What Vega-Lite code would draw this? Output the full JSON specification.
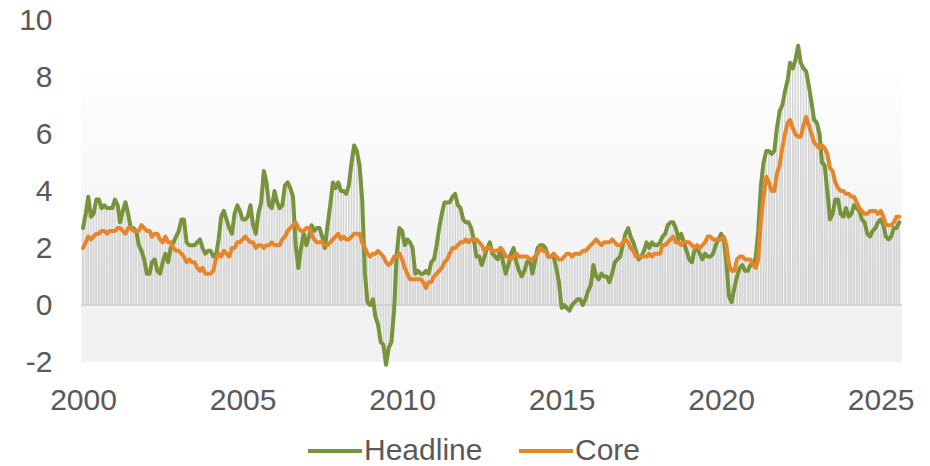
{
  "$schema": "https://vega.github.io/schema/vega-lite/v6.json",
  "width": 821,
  "height": 342,
  "autosize": {"type": "none"},
  "padding": {"left": 81, "top": 20, "right": 28, "bottom": 104},
  "config": {
    "view": {"stroke": null},
    "font": "Liberation Sans",
    "legend": {"orient": "none", "legendX": 225, "legendY": 402, "direction": "horizontal", "labelFontSize": 30, "labelColor": "#595959", "symbolType": "stroke", "symbolSize": 2916, "symbolStrokeWidth": 4, "labelOffset": 0, "columnPadding": 28, "title": null}
  },
  "datasets": {
    "cpi": [
{"d":"2000-01-01","Headline":2.7,"Core":2.0},{"d":"2000-02-01","Headline":3.2,"Core":2.2},{"d":"2000-03-01","Headline":3.8,"Core":2.4},{"d":"2000-04-01","Headline":3.1,"Core":2.3},{"d":"2000-05-01","Headline":3.2,"Core":2.4},{"d":"2000-06-01","Headline":3.7,"Core":2.5},{"d":"2000-07-01","Headline":3.7,"Core":2.5},{"d":"2000-08-01","Headline":3.4,"Core":2.6},{"d":"2000-09-01","Headline":3.5,"Core":2.6},{"d":"2000-10-01","Headline":3.4,"Core":2.5},{"d":"2000-11-01","Headline":3.4,"Core":2.6},{"d":"2000-12-01","Headline":3.4,"Core":2.6},
{"d":"2001-01-01","Headline":3.7,"Core":2.6},{"d":"2001-02-01","Headline":3.5,"Core":2.7},{"d":"2001-03-01","Headline":2.9,"Core":2.7},{"d":"2001-04-01","Headline":3.3,"Core":2.6},{"d":"2001-05-01","Headline":3.6,"Core":2.5},{"d":"2001-06-01","Headline":3.2,"Core":2.7},{"d":"2001-07-01","Headline":2.7,"Core":2.7},{"d":"2001-08-01","Headline":2.7,"Core":2.6},{"d":"2001-09-01","Headline":2.6,"Core":2.6},{"d":"2001-10-01","Headline":2.1,"Core":2.6},{"d":"2001-11-01","Headline":1.9,"Core":2.8},{"d":"2001-12-01","Headline":1.6,"Core":2.7},
{"d":"2002-01-01","Headline":1.1,"Core":2.6},{"d":"2002-02-01","Headline":1.1,"Core":2.6},{"d":"2002-03-01","Headline":1.5,"Core":2.4},{"d":"2002-04-01","Headline":1.6,"Core":2.5},{"d":"2002-05-01","Headline":1.2,"Core":2.5},{"d":"2002-06-01","Headline":1.1,"Core":2.3},{"d":"2002-07-01","Headline":1.5,"Core":2.2},{"d":"2002-08-01","Headline":1.8,"Core":2.4},{"d":"2002-09-01","Headline":1.5,"Core":2.2},{"d":"2002-10-01","Headline":2.0,"Core":2.2},{"d":"2002-11-01","Headline":2.2,"Core":2.0},{"d":"2002-12-01","Headline":2.4,"Core":1.9},
{"d":"2003-01-01","Headline":2.6,"Core":1.9},{"d":"2003-02-01","Headline":3.0,"Core":1.8},{"d":"2003-03-01","Headline":3.0,"Core":1.7},{"d":"2003-04-01","Headline":2.2,"Core":1.5},{"d":"2003-05-01","Headline":2.1,"Core":1.6},{"d":"2003-06-01","Headline":2.1,"Core":1.5},{"d":"2003-07-01","Headline":2.1,"Core":1.5},{"d":"2003-08-01","Headline":2.2,"Core":1.3},{"d":"2003-09-01","Headline":2.3,"Core":1.2},{"d":"2003-10-01","Headline":2.0,"Core":1.3},{"d":"2003-11-01","Headline":1.8,"Core":1.1},{"d":"2003-12-01","Headline":1.9,"Core":1.1},
{"d":"2004-01-01","Headline":1.9,"Core":1.1},{"d":"2004-02-01","Headline":1.7,"Core":1.2},{"d":"2004-03-01","Headline":1.7,"Core":1.6},{"d":"2004-04-01","Headline":2.3,"Core":1.8},{"d":"2004-05-01","Headline":3.1,"Core":1.7},{"d":"2004-06-01","Headline":3.3,"Core":1.9},{"d":"2004-07-01","Headline":3.0,"Core":1.8},{"d":"2004-08-01","Headline":2.7,"Core":1.7},{"d":"2004-09-01","Headline":2.5,"Core":2.0},{"d":"2004-10-01","Headline":3.2,"Core":2.0},{"d":"2004-11-01","Headline":3.5,"Core":2.2},{"d":"2004-12-01","Headline":3.3,"Core":2.2},
{"d":"2005-01-01","Headline":3.0,"Core":2.3},{"d":"2005-02-01","Headline":3.0,"Core":2.4},{"d":"2005-03-01","Headline":3.1,"Core":2.3},{"d":"2005-04-01","Headline":3.5,"Core":2.2},{"d":"2005-05-01","Headline":2.8,"Core":2.2},{"d":"2005-06-01","Headline":2.5,"Core":2.0},{"d":"2005-07-01","Headline":3.2,"Core":2.1},{"d":"2005-08-01","Headline":3.6,"Core":2.1},{"d":"2005-09-01","Headline":4.7,"Core":2.0},{"d":"2005-10-01","Headline":4.3,"Core":2.1},{"d":"2005-11-01","Headline":3.5,"Core":2.1},{"d":"2005-12-01","Headline":3.4,"Core":2.2},
{"d":"2006-01-01","Headline":4.0,"Core":2.1},{"d":"2006-02-01","Headline":3.6,"Core":2.1},{"d":"2006-03-01","Headline":3.4,"Core":2.1},{"d":"2006-04-01","Headline":3.5,"Core":2.3},{"d":"2006-05-01","Headline":4.2,"Core":2.4},{"d":"2006-06-01","Headline":4.3,"Core":2.6},{"d":"2006-07-01","Headline":4.1,"Core":2.7},{"d":"2006-08-01","Headline":3.8,"Core":2.8},{"d":"2006-09-01","Headline":2.1,"Core":2.9},{"d":"2006-10-01","Headline":1.3,"Core":2.7},{"d":"2006-11-01","Headline":2.0,"Core":2.6},{"d":"2006-12-01","Headline":2.5,"Core":2.6},
{"d":"2007-01-01","Headline":2.1,"Core":2.7},{"d":"2007-02-01","Headline":2.4,"Core":2.7},{"d":"2007-03-01","Headline":2.8,"Core":2.5},{"d":"2007-04-01","Headline":2.6,"Core":2.3},{"d":"2007-05-01","Headline":2.7,"Core":2.2},{"d":"2007-06-01","Headline":2.7,"Core":2.2},{"d":"2007-07-01","Headline":2.4,"Core":2.2},{"d":"2007-08-01","Headline":2.0,"Core":2.1},{"d":"2007-09-01","Headline":2.8,"Core":2.1},{"d":"2007-10-01","Headline":3.5,"Core":2.2},{"d":"2007-11-01","Headline":4.3,"Core":2.3},{"d":"2007-12-01","Headline":4.1,"Core":2.4},
{"d":"2008-01-01","Headline":4.3,"Core":2.5},{"d":"2008-02-01","Headline":4.0,"Core":2.3},{"d":"2008-03-01","Headline":4.0,"Core":2.4},{"d":"2008-04-01","Headline":3.9,"Core":2.3},{"d":"2008-05-01","Headline":4.2,"Core":2.3},{"d":"2008-06-01","Headline":5.0,"Core":2.4},{"d":"2008-07-01","Headline":5.6,"Core":2.5},{"d":"2008-08-01","Headline":5.4,"Core":2.5},{"d":"2008-09-01","Headline":4.9,"Core":2.5},{"d":"2008-10-01","Headline":3.7,"Core":2.2},{"d":"2008-11-01","Headline":1.1,"Core":2.0},{"d":"2008-12-01","Headline":0.1,"Core":1.8},
{"d":"2009-01-01","Headline":0.0,"Core":1.7},{"d":"2009-02-01","Headline":0.2,"Core":1.8},{"d":"2009-03-01","Headline":-0.4,"Core":1.8},{"d":"2009-04-01","Headline":-0.7,"Core":1.9},{"d":"2009-05-01","Headline":-1.3,"Core":1.8},{"d":"2009-06-01","Headline":-1.4,"Core":1.7},{"d":"2009-07-01","Headline":-2.1,"Core":1.5},{"d":"2009-08-01","Headline":-1.5,"Core":1.4},{"d":"2009-09-01","Headline":-1.3,"Core":1.5},{"d":"2009-10-01","Headline":-0.2,"Core":1.7},{"d":"2009-11-01","Headline":1.8,"Core":1.7},{"d":"2009-12-01","Headline":2.7,"Core":1.8},
{"d":"2010-01-01","Headline":2.6,"Core":1.6},{"d":"2010-02-01","Headline":2.1,"Core":1.3},{"d":"2010-03-01","Headline":2.3,"Core":1.1},{"d":"2010-04-01","Headline":2.2,"Core":0.9},{"d":"2010-05-01","Headline":2.0,"Core":0.9},{"d":"2010-06-01","Headline":1.1,"Core":0.9},{"d":"2010-07-01","Headline":1.2,"Core":0.9},{"d":"2010-08-01","Headline":1.1,"Core":0.9},{"d":"2010-09-01","Headline":1.1,"Core":0.8},{"d":"2010-10-01","Headline":1.2,"Core":0.6},{"d":"2010-11-01","Headline":1.1,"Core":0.8},{"d":"2010-12-01","Headline":1.5,"Core":0.8},
{"d":"2011-01-01","Headline":1.6,"Core":1.0},{"d":"2011-02-01","Headline":2.1,"Core":1.1},{"d":"2011-03-01","Headline":2.7,"Core":1.2},{"d":"2011-04-01","Headline":3.2,"Core":1.3},{"d":"2011-05-01","Headline":3.6,"Core":1.5},{"d":"2011-06-01","Headline":3.6,"Core":1.6},{"d":"2011-07-01","Headline":3.6,"Core":1.8},{"d":"2011-08-01","Headline":3.8,"Core":2.0},{"d":"2011-09-01","Headline":3.9,"Core":2.0},{"d":"2011-10-01","Headline":3.5,"Core":2.1},{"d":"2011-11-01","Headline":3.4,"Core":2.2},{"d":"2011-12-01","Headline":3.0,"Core":2.2},
{"d":"2012-01-01","Headline":2.9,"Core":2.3},{"d":"2012-02-01","Headline":2.9,"Core":2.2},{"d":"2012-03-01","Headline":2.7,"Core":2.3},{"d":"2012-04-01","Headline":2.3,"Core":2.3},{"d":"2012-05-01","Headline":1.7,"Core":2.3},{"d":"2012-06-01","Headline":1.7,"Core":2.2},{"d":"2012-07-01","Headline":1.4,"Core":2.1},{"d":"2012-08-01","Headline":1.7,"Core":1.9},{"d":"2012-09-01","Headline":2.0,"Core":2.0},{"d":"2012-10-01","Headline":2.2,"Core":2.0},{"d":"2012-11-01","Headline":1.8,"Core":1.9},{"d":"2012-12-01","Headline":1.7,"Core":1.9},
{"d":"2013-01-01","Headline":1.6,"Core":1.9},{"d":"2013-02-01","Headline":2.0,"Core":2.0},{"d":"2013-03-01","Headline":1.5,"Core":1.9},{"d":"2013-04-01","Headline":1.1,"Core":1.7},{"d":"2013-05-01","Headline":1.4,"Core":1.7},{"d":"2013-06-01","Headline":1.8,"Core":1.6},{"d":"2013-07-01","Headline":2.0,"Core":1.7},{"d":"2013-08-01","Headline":1.5,"Core":1.8},{"d":"2013-09-01","Headline":1.2,"Core":1.7},{"d":"2013-10-01","Headline":1.0,"Core":1.7},{"d":"2013-11-01","Headline":1.2,"Core":1.7},{"d":"2013-12-01","Headline":1.5,"Core":1.7},
{"d":"2014-01-01","Headline":1.6,"Core":1.6},{"d":"2014-02-01","Headline":1.1,"Core":1.6},{"d":"2014-03-01","Headline":1.5,"Core":1.7},{"d":"2014-04-01","Headline":2.0,"Core":1.8},{"d":"2014-05-01","Headline":2.1,"Core":2.0},{"d":"2014-06-01","Headline":2.1,"Core":1.9},{"d":"2014-07-01","Headline":2.0,"Core":1.9},{"d":"2014-08-01","Headline":1.7,"Core":1.7},{"d":"2014-09-01","Headline":1.7,"Core":1.7},{"d":"2014-10-01","Headline":1.7,"Core":1.8},{"d":"2014-11-01","Headline":1.3,"Core":1.7},{"d":"2014-12-01","Headline":0.8,"Core":1.6},
{"d":"2015-01-01","Headline":-0.1,"Core":1.6},{"d":"2015-02-01","Headline":0.0,"Core":1.7},{"d":"2015-03-01","Headline":-0.1,"Core":1.8},{"d":"2015-04-01","Headline":-0.2,"Core":1.8},{"d":"2015-05-01","Headline":0.0,"Core":1.7},{"d":"2015-06-01","Headline":0.1,"Core":1.8},{"d":"2015-07-01","Headline":0.2,"Core":1.8},{"d":"2015-08-01","Headline":0.2,"Core":1.8},{"d":"2015-09-01","Headline":0.0,"Core":1.9},{"d":"2015-10-01","Headline":0.2,"Core":1.9},{"d":"2015-11-01","Headline":0.5,"Core":2.0},{"d":"2015-12-01","Headline":0.7,"Core":2.1},
{"d":"2016-01-01","Headline":1.4,"Core":2.2},{"d":"2016-02-01","Headline":1.0,"Core":2.3},{"d":"2016-03-01","Headline":0.9,"Core":2.2},{"d":"2016-04-01","Headline":1.1,"Core":2.1},{"d":"2016-05-01","Headline":1.0,"Core":2.2},{"d":"2016-06-01","Headline":1.0,"Core":2.2},{"d":"2016-07-01","Headline":0.8,"Core":2.2},{"d":"2016-08-01","Headline":1.1,"Core":2.3},{"d":"2016-09-01","Headline":1.5,"Core":2.2},{"d":"2016-10-01","Headline":1.6,"Core":2.1},{"d":"2016-11-01","Headline":1.7,"Core":2.1},{"d":"2016-12-01","Headline":2.1,"Core":2.2},
{"d":"2017-01-01","Headline":2.5,"Core":2.3},{"d":"2017-02-01","Headline":2.7,"Core":2.2},{"d":"2017-03-01","Headline":2.4,"Core":2.0},{"d":"2017-04-01","Headline":2.2,"Core":1.9},{"d":"2017-05-01","Headline":1.9,"Core":1.7},{"d":"2017-06-01","Headline":1.6,"Core":1.7},{"d":"2017-07-01","Headline":1.7,"Core":1.7},{"d":"2017-08-01","Headline":1.9,"Core":1.7},{"d":"2017-09-01","Headline":2.2,"Core":1.7},{"d":"2017-10-01","Headline":2.0,"Core":1.8},{"d":"2017-11-01","Headline":2.2,"Core":1.7},{"d":"2017-12-01","Headline":2.1,"Core":1.8},
{"d":"2018-01-01","Headline":2.1,"Core":1.8},{"d":"2018-02-01","Headline":2.2,"Core":1.8},{"d":"2018-03-01","Headline":2.4,"Core":2.1},{"d":"2018-04-01","Headline":2.5,"Core":2.1},{"d":"2018-05-01","Headline":2.8,"Core":2.2},{"d":"2018-06-01","Headline":2.9,"Core":2.3},{"d":"2018-07-01","Headline":2.9,"Core":2.4},{"d":"2018-08-01","Headline":2.7,"Core":2.2},{"d":"2018-09-01","Headline":2.3,"Core":2.2},{"d":"2018-10-01","Headline":2.5,"Core":2.1},{"d":"2018-11-01","Headline":2.2,"Core":2.2},{"d":"2018-12-01","Headline":1.9,"Core":2.2},
{"d":"2019-01-01","Headline":1.6,"Core":2.2},{"d":"2019-02-01","Headline":1.5,"Core":2.1},{"d":"2019-03-01","Headline":1.9,"Core":2.0},{"d":"2019-04-01","Headline":2.0,"Core":2.1},{"d":"2019-05-01","Headline":1.8,"Core":2.0},{"d":"2019-06-01","Headline":1.6,"Core":2.1},{"d":"2019-07-01","Headline":1.8,"Core":2.2},{"d":"2019-08-01","Headline":1.7,"Core":2.4},{"d":"2019-09-01","Headline":1.7,"Core":2.4},{"d":"2019-10-01","Headline":1.8,"Core":2.3},{"d":"2019-11-01","Headline":2.1,"Core":2.3},{"d":"2019-12-01","Headline":2.3,"Core":2.3},
{"d":"2020-01-01","Headline":2.5,"Core":2.3},{"d":"2020-02-01","Headline":2.3,"Core":2.4},{"d":"2020-03-01","Headline":1.5,"Core":2.1},{"d":"2020-04-01","Headline":0.3,"Core":1.4},{"d":"2020-05-01","Headline":0.1,"Core":1.2},{"d":"2020-06-01","Headline":0.6,"Core":1.2},{"d":"2020-07-01","Headline":1.0,"Core":1.6},{"d":"2020-08-01","Headline":1.3,"Core":1.7},{"d":"2020-09-01","Headline":1.4,"Core":1.7},{"d":"2020-10-01","Headline":1.2,"Core":1.6},{"d":"2020-11-01","Headline":1.2,"Core":1.6},{"d":"2020-12-01","Headline":1.4,"Core":1.6},
{"d":"2021-01-01","Headline":1.4,"Core":1.4},{"d":"2021-02-01","Headline":1.7,"Core":1.3},{"d":"2021-03-01","Headline":2.6,"Core":1.6},{"d":"2021-04-01","Headline":4.2,"Core":3.0},{"d":"2021-05-01","Headline":5.0,"Core":3.8},{"d":"2021-06-01","Headline":5.4,"Core":4.5},{"d":"2021-07-01","Headline":5.4,"Core":4.3},{"d":"2021-08-01","Headline":5.3,"Core":4.0},{"d":"2021-09-01","Headline":5.4,"Core":4.0},{"d":"2021-10-01","Headline":6.2,"Core":4.6},{"d":"2021-11-01","Headline":6.8,"Core":4.9},{"d":"2021-12-01","Headline":7.0,"Core":5.5},
{"d":"2022-01-01","Headline":7.5,"Core":6.0},{"d":"2022-02-01","Headline":7.9,"Core":6.4},{"d":"2022-03-01","Headline":8.5,"Core":6.5},{"d":"2022-04-01","Headline":8.3,"Core":6.2},{"d":"2022-05-01","Headline":8.6,"Core":6.0},{"d":"2022-06-01","Headline":9.1,"Core":5.9},{"d":"2022-07-01","Headline":8.5,"Core":5.9},{"d":"2022-08-01","Headline":8.3,"Core":6.3},{"d":"2022-09-01","Headline":8.2,"Core":6.6},{"d":"2022-10-01","Headline":7.7,"Core":6.3},{"d":"2022-11-01","Headline":7.1,"Core":6.0},{"d":"2022-12-01","Headline":6.5,"Core":5.7},
{"d":"2023-01-01","Headline":6.4,"Core":5.6},{"d":"2023-02-01","Headline":6.0,"Core":5.5},{"d":"2023-03-01","Headline":5.0,"Core":5.6},{"d":"2023-04-01","Headline":4.9,"Core":5.5},{"d":"2023-05-01","Headline":4.0,"Core":5.3},{"d":"2023-06-01","Headline":3.0,"Core":4.8},{"d":"2023-07-01","Headline":3.2,"Core":4.7},{"d":"2023-08-01","Headline":3.7,"Core":4.3},{"d":"2023-09-01","Headline":3.7,"Core":4.1},{"d":"2023-10-01","Headline":3.2,"Core":4.0},{"d":"2023-11-01","Headline":3.1,"Core":4.0},{"d":"2023-12-01","Headline":3.4,"Core":3.9},
{"d":"2024-01-01","Headline":3.1,"Core":3.9},{"d":"2024-02-01","Headline":3.2,"Core":3.8},{"d":"2024-03-01","Headline":3.5,"Core":3.8},{"d":"2024-04-01","Headline":3.4,"Core":3.6},{"d":"2024-05-01","Headline":3.3,"Core":3.4},{"d":"2024-06-01","Headline":3.0,"Core":3.3},{"d":"2024-07-01","Headline":2.9,"Core":3.2},{"d":"2024-08-01","Headline":2.5,"Core":3.2},{"d":"2024-09-01","Headline":2.4,"Core":3.3},{"d":"2024-10-01","Headline":2.6,"Core":3.3},{"d":"2024-11-01","Headline":2.7,"Core":3.3},{"d":"2024-12-01","Headline":2.9,"Core":3.2},
{"d":"2025-01-01","Headline":3.0,"Core":3.3},{"d":"2025-02-01","Headline":2.8,"Core":3.1},{"d":"2025-03-01","Headline":2.4,"Core":2.8},{"d":"2025-04-01","Headline":2.3,"Core":2.8},{"d":"2025-05-01","Headline":2.4,"Core":2.8},{"d":"2025-06-01","Headline":2.7,"Core":2.9},{"d":"2025-07-01","Headline":2.7,"Core":3.1},{"d":"2025-08-01","Headline":2.9,"Core":3.1}
    ]
  },
  "layer": [
    {
      "data": {"values": [{}]},
      "mark": {"type": "rect", "color": {"gradient": "linear", "x1": 0, "y1": 0, "x2": 0, "y2": 1, "stops": [{"offset": 0, "color": "#ffffff"}, {"offset": 0.12, "color": "#ffffff"}, {"offset": 0.75, "color": "#f2f2f2"}, {"offset": 1, "color": "#f2f2f2"}]}},
      "encoding": {
        "y": {"datum": 10, "type": "quantitative", "scale": {"domain": [-2, 10], "nice": false, "zero": false}},
        "y2": {"datum": -2}
      }
    },
    {
      "data": {"name": "cpi"},
      "transform": [{"fold": ["Headline", "Core"], "as": ["series", "value"]}],
      "mark": {"type": "rule", "color": "#d6d6d6", "strokeWidth": 1.6},
      "encoding": {
        "x": {"field": "d", "type": "temporal", "scale": {"type": "utc", "domain": [{"year": 1999, "month": 12, "date": 9, "utc": true}, {"year": 2025, "month": 9, "date": 2, "utc": true}]}},
        "y": {"field": "value", "type": "quantitative"},
        "y2": {"datum": 0}
      }
    },
    {
      "data": {"values": [{}]},
      "mark": {"type": "rule", "color": "#d3d3d3", "strokeWidth": 2},
      "encoding": {"y": {"datum": 0, "type": "quantitative"}}
    },
    {
      "data": {"name": "cpi"},
      "transform": [{"fold": ["Headline", "Core"], "as": ["series", "value"]}],
      "mark": {"type": "line", "strokeWidth": 4, "strokeJoin": "round", "strokeCap": "round"},
      "encoding": {
        "x": {"field": "d", "type": "temporal", "axis": {"title": null, "values": [{"year": 2000, "utc": true}, {"year": 2005, "utc": true}, {"year": 2010, "utc": true}, {"year": 2015, "utc": true}, {"year": 2020, "utc": true}, {"year": 2025, "utc": true}], "format": "%Y", "labelFontSize": 30, "labelColor": "#595959", "ticks": false, "domain": false, "grid": false, "labelPadding": 23, "labelFlush": false, "labelOverlap": false}},
        "y": {"field": "value", "type": "quantitative", "axis": {"title": null, "values": [-2, 0, 2, 4, 6, 8, 10], "labelExpr": "replace(datum.label, '\u2212', '-')", "labelFontSize": 30, "labelColor": "#595959", "ticks": false, "domain": false, "grid": false, "labelPadding": 29}},
        "color": {"field": "series", "type": "nominal", "scale": {"domain": ["Headline", "Core"], "range": ["#77933c", "#e6862c"]}, "sort": ["Headline", "Core"]},
        "order": {"field": "series", "type": "nominal", "sort": "descending"}
      }
    }
  ]
}
